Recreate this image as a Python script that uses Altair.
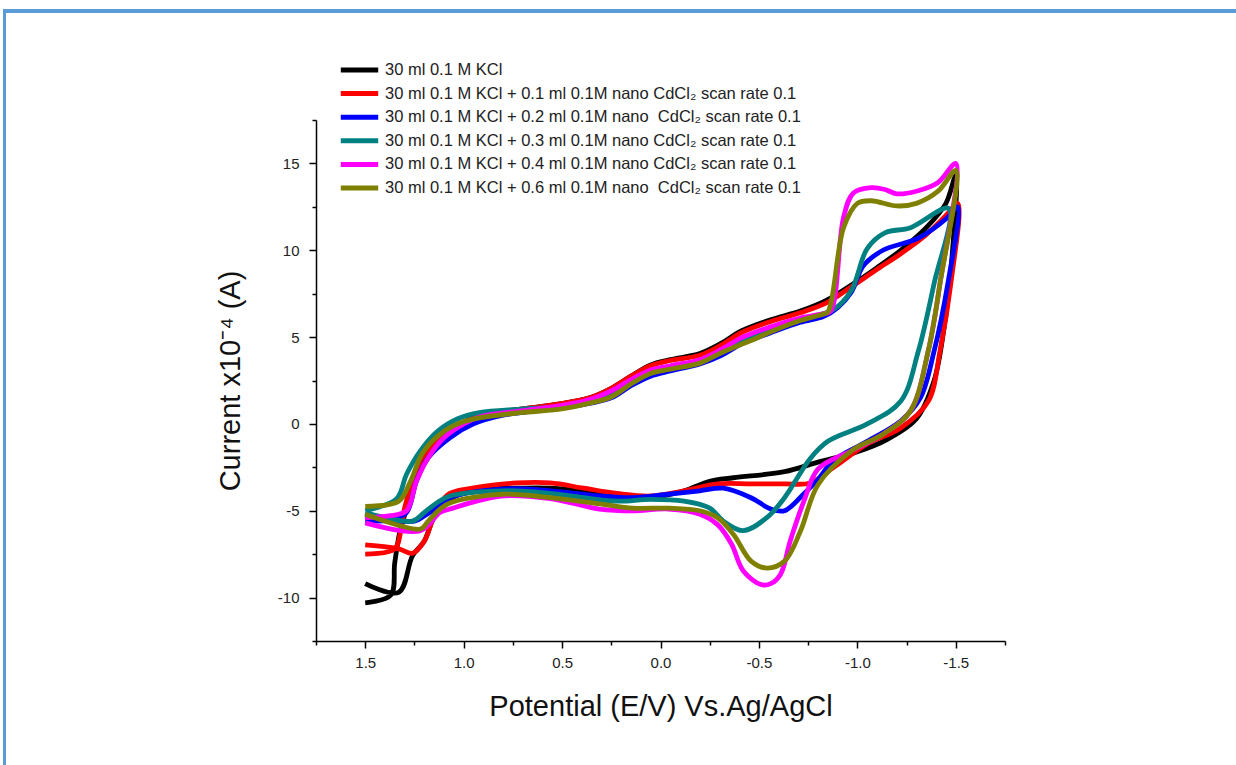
import altair as alt
import pandas as pd

# ---- series labels and colours -------------------------------------------
LABELS = [
    "30 ml 0.1 M KCl",
    "30 ml 0.1 M KCl + 0.1 ml 0.1M nano CdCl₂ scan rate 0.1",
    "30 ml 0.1 M KCl + 0.2 ml 0.1M nano\u00a0 CdCl₂ scan rate 0.1",
    "30 ml 0.1 M KCl + 0.3 ml 0.1M nano CdCl₂ scan rate 0.1",
    "30 ml 0.1 M KCl + 0.4 ml 0.1M nano CdCl₂ scan rate 0.1",
    "30 ml 0.1 M KCl + 0.6 ml 0.1M nano\u00a0 CdCl₂ scan rate 0.1",
]
COLORS = ["#000000", "#FF0000", "#0000FF", "#008080", "#FF00FF", "#808000"]

# ---- voltammograms: potential (V) and current (x1e-4 A) in scan order ------
E_kcl = [1.50, 1.37, 1.35, 1.32, 1.27, 1.22, 1.15, 1.05, 0.92, 0.71, 0.51, 0.36, 0.25, 0.15,
         0.05, -0.05, -0.20, -0.31, -0.41, -0.56, -0.71, -0.84, -0.97, -1.10, -1.22, -1.35,
         -1.45, -1.50,
         -1.48, -1.44, -1.39, -1.30, -1.15, -1.00, -0.80, -0.63, -0.37, -0.25, -0.12, 0.05,
         0.22, 0.39, 0.56, 0.73, 0.90, 1.05, 1.12, 1.16, 1.20, 1.26, 1.33, 1.50]
I_kcl = [-10.3, -9.85, -8.0, -6.0, -4.3, -2.5, -1.15, -0.2, 0.45, 0.85, 1.15, 1.5, 2.05, 2.75,
         3.4, 3.7, 4.05, 4.65, 5.35, 6.0, 6.5, 7.1, 8.0, 9.0, 10.0, 11.3,
         12.7, 14.3,
         9.5, 5.5, 2.5, 0.3, -0.9, -1.6, -2.2, -2.75, -3.1, -3.3, -3.85, -4.25,
         -4.15, -3.85, -3.7, -3.7, -3.75, -4.2, -4.8, -5.6, -6.75, -7.6, -9.7, -9.2]

E_cd01 = [1.50, 1.35, 1.32, 1.30, 1.26, 1.21, 1.12, 1.02, 0.92, 0.71, 0.51, 0.36, 0.25, 0.15,
          0.05, -0.05, -0.20, -0.31, -0.41, -0.56, -0.71, -0.84, -0.97, -1.10, -1.22, -1.35,
          -1.45, -1.51,
          -1.475, -1.42, -1.36, -1.22, -1.05, -0.88, -0.76, -0.63, -0.46, -0.29, -0.12, 0.05,
          0.22, 0.39, 0.56, 0.73, 0.90, 1.07, 1.12, 1.16, 1.20, 1.26, 1.33, 1.50]
I_cd01 = [-7.5, -7.2, -6.2, -4.85, -3.3, -1.95, -0.8, -0.05, 0.45, 0.85, 1.15, 1.5, 2.05, 2.75,
          3.35, 3.65, 3.95, 4.55, 5.25, 5.9, 6.4, 6.95, 7.9, 8.9, 9.8, 10.9,
          12.0, 12.7,
          8.1, 4.2, 1.3, -0.23, -1.15, -2.5, -3.4, -3.45, -3.45, -3.45, -3.85, -4.15,
          -4.0, -3.7, -3.4, -3.4, -3.6, -4.0, -4.6, -5.6, -6.75, -7.45, -7.2, -6.97]

E_cd02 = [1.50, 1.36, 1.29, 1.24, 1.18, 1.07, 0.95, 0.80, 0.60, 0.40, 0.25, 0.15, 0.05, -0.05,
          -0.20, -0.31, -0.41, -0.56, -0.71, -0.83, -0.90, -0.97, -1.03, -1.13, -1.31,
          -1.46, -1.51,
          -1.46, -1.39, -1.32, -1.22, -1.05, -0.88, -0.80, -0.73, -0.63, -0.56, -0.46, -0.32,
          -0.20, -0.04, 0.14, 0.31, 0.56, 0.81, 1.07, 1.12, 1.20, 1.25, 1.50]
I_cd02 = [-5.6, -5.5, -5.1, -3.3, -1.95, -0.8, 0.0, 0.5, 0.8, 1.1, 1.5, 2.2, 2.75, 3.05,
          3.45, 3.95, 4.6, 5.25, 5.85, 6.2, 6.7, 7.6, 9.1, 10.0, 10.7,
          11.9, 12.5,
          8.1, 4.2, 1.5, 0.17, -1.0, -2.1, -3.2, -4.0, -5.0, -4.9, -4.25, -3.7,
          -3.85, -4.05, -4.25, -4.15, -3.85, -3.75, -4.25, -4.7, -5.3, -5.6, -5.3]

E_cd03 = [1.50, 1.34, 1.29, 1.22, 1.13, 1.03, 0.92, 0.71, 0.51, 0.36, 0.25, 0.15, 0.05, -0.05,
          -0.20, -0.31, -0.41, -0.56, -0.71, -0.88, -0.97, -1.05, -1.14, -1.27, -1.465,
          -1.39, -1.31, -1.22, -1.05, -0.85, -0.76, -0.63, -0.54, -0.42, -0.32, -0.25, -0.12,
          0.05, 0.22, 0.39, 0.56, 0.81, 1.07, 1.13, 1.20, 1.26, 1.50]
I_cd03 = [-5.0, -4.3, -2.9, -1.55, -0.4, 0.3, 0.65, 0.85, 1.0, 1.3, 1.75, 2.4, 2.95, 3.2,
          3.6, 4.15, 4.75, 5.4, 6.0, 6.6, 7.7, 10.1, 11.0, 11.3, 12.4,
          8.1, 4.2, 1.3, 0.0, -1.0, -2.0, -4.25, -5.4, -6.15, -5.6, -4.85, -4.45,
          -4.35, -4.45, -4.25, -4.0, -3.85, -4.15, -4.5, -5.1, -5.6, -5.1]

E_cd04 = [1.50, 1.38, 1.29, 1.24, 1.18, 1.10, 1.00, 0.92, 0.71, 0.51, 0.36, 0.25, 0.15, 0.05,
          -0.05, -0.20, -0.31, -0.41, -0.56, -0.71, -0.83, -0.865, -0.93, -0.98, -1.07, -1.14,
          -1.20, -1.30, -1.41, -1.50,
          -1.42, -1.36, -1.27, -1.13, -0.97, -0.80, -0.73, -0.66, -0.61, -0.56, -0.51, -0.42,
          -0.36, -0.29, -0.20, -0.04, 0.14, 0.31, 0.56, 0.81, 1.07, 1.12, 1.22, 1.50]
I_cd04 = [-5.4, -5.3, -5.0, -3.3, -1.95, -0.8, 0.0, 0.4, 0.75, 1.05, 1.4, 1.9, 2.55, 3.1,
          3.35, 3.7, 4.3, 4.95, 5.6, 6.1, 6.35, 6.5, 11.9, 13.3, 13.6, 13.5,
          13.25, 13.4, 13.9, 15.0,
          8.1, 4.2, 0.75, -0.6, -1.55, -2.6, -4.4, -6.7, -8.65, -9.2, -9.25, -8.45,
          -6.9, -5.8, -5.2, -4.9, -5.0, -4.9, -4.3, -4.15, -4.9, -5.1, -6.15, -5.7]

E_cd06 = [1.50, 1.33, 1.27, 1.21, 1.12, 1.02, 0.92, 0.71, 0.51, 0.36, 0.25, 0.15, 0.05, -0.05,
          -0.20, -0.31, -0.49, -0.56, -0.71, -0.82, -0.85, -0.93, -1.00, -1.07, -1.20, -1.30,
          -1.41, -1.50,
          -1.42, -1.36, -1.27, -1.13, -0.97, -0.80, -0.71, -0.63, -0.54, -0.46, -0.37, -0.29,
          -0.20, -0.04, 0.14, 0.31, 0.56, 0.81, 1.07, 1.12, 1.18, 1.22, 1.50]
I_cd06 = [-4.75, -4.45, -3.3, -1.7, -0.6, 0.05, 0.35, 0.65, 0.85, 1.2, 1.55, 2.3, 2.9, 3.15,
          3.5, 4.1, 4.95, 5.3, 5.95, 6.3, 6.45, 11.3, 12.7, 12.85, 12.55, 12.7,
          13.4, 14.6,
          8.1, 4.2, 0.75, -0.6, -1.55, -3.5, -6.2, -7.9, -8.3, -7.9, -6.35, -5.4,
          -5.0, -4.85, -4.85, -4.6, -4.25, -4.05, -4.55, -4.9, -5.6, -6.05, -5.2]

SERIES = [(E_kcl, I_kcl), (E_cd01, I_cd01), (E_cd02, I_cd02),
          (E_cd03, I_cd03), (E_cd04, I_cd04), (E_cd06, I_cd06)]

# axis tick positions (major every 0.5 V / 5 units, minor halfway)
X_TICKS = [-1.75, -1.5, -1.25, -1.0, -0.75, -0.5, -0.25, 0.0, 0.25, 0.5, 0.75, 1.0, 1.25, 1.5, 1.75]
Y_TICKS = [-12.5, -10, -7.5, -5, -2.5, 0, 2.5, 5, 7.5, 10, 12.5, 15, 17.5]

rows = []
for rank, (label, (es, cs)) in enumerate(zip(LABELS, SERIES)):
    for step, (e, c) in enumerate(zip(es, cs)):
        rows.append({"series": label, "rank": rank, "step": step, "E": e, "I": c})
df = pd.DataFrame(rows)

FONT = "Liberation Sans"

x_axis = alt.Axis(
    values=X_TICKS,
    labelExpr="abs(datum.value*2 - round(datum.value*2)) < 0.001 ? "
              "replace(format(datum.value, '.1f'), '\u2212', '-') : ''",
    tickSize={"condition": {"test": "abs(datum.value*2 - round(datum.value*2)) < 0.001",
                            "value": 7}, "value": 4},
    title="Potential (E/V) Vs.Ag/AgCl",
    titlePadding=22,
    labelPadding=7,
)
y_axis = alt.Axis(
    values=Y_TICKS,
    labelExpr="abs(datum.value/5 - round(datum.value/5)) < 0.001 ? "
              "replace(format(datum.value, 'd'), '\u2212', '-') : ''",
    tickSize={"condition": {"test": "abs(datum.value/5 - round(datum.value/5)) < 0.001",
                            "value": 7}, "value": 4},
    title="Current x10⁻⁴ (A)",
    titlePadding=32,
    labelPadding=10,
)

curves = alt.Chart(df).mark_line(strokeWidth=4.8, interpolate="catmull-rom").encode(
    x=alt.X("E:Q", scale=alt.Scale(domain=[-1.75, 1.75], reverse=True, nice=False, zero=False),
            axis=x_axis),
    y=alt.Y("I:Q", scale=alt.Scale(domain=[-12.5, 17.5], nice=False, zero=False), axis=y_axis),
    color=alt.Color(
        "series:N",
        scale=alt.Scale(domain=LABELS, range=COLORS),
        legend=alt.Legend(
            title=None, orient="none", legendX=22, legendY=-61,
            symbolType="stroke", symbolStrokeWidth=5, symbolSize=1400,
            labelFont=FONT, labelFontSize=16.5, labelColor="#222222",
            labelLimit=0, clipHeight=22, rowPadding=1.6, symbolOffset=0,
        ),
    ),
    order=alt.Order("step:Q"),
    detail="rank:O",
)

# page frame: blue rules along the top and left edges
frame_top = alt.Chart(pd.DataFrame({"k": [0]})).mark_rule(color="#5B9BD5", strokeWidth=4).encode(
    x=alt.value(-313), x2=alt.value(920), y=alt.value(-109))
frame_left = alt.Chart(pd.DataFrame({"k": [0]})).mark_rule(color="#5B9BD5", strokeWidth=3).encode(
    x=alt.value(-311.5), y=alt.value(-111), y2=alt.value(645))

chart = alt.layer(curves, frame_top, frame_left).properties(
    width=689, height=521,
    autosize=alt.AutoSizeParams(type="none"),
    padding={"left": 316, "top": 120, "right": 231, "bottom": 124},
    background="white",
).configure_view(stroke=None).configure_axis(
    grid=False, domainColor="#000000", domainWidth=1.5, tickColor="#000000", tickWidth=1.5,
    labelFont=FONT, labelFontSize=15, labelColor="#222222",
    titleFont=FONT, titleFontSize=29, titleFontWeight="normal", titleColor="#111111",
)

chart.save("out.html", embed_options={"renderer": "svg", "actions": False})
